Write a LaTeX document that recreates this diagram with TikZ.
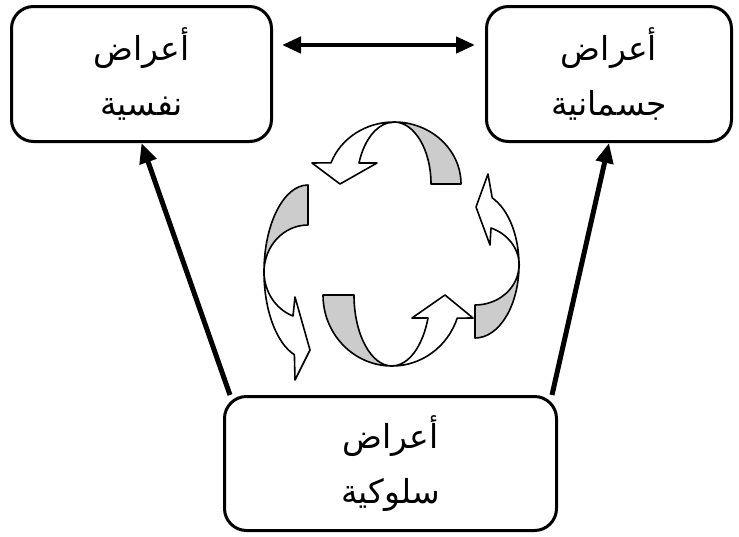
\documentclass[tikz,border=0pt]{standalone}
\usepackage{fontspec}
\usepackage{tikz}
\usetikzlibrary{arrows.meta}
\newfontfamily\arabicfont[Script=Arabic]{DejaVu Sans}
\TeXXeTstate=1
\definecolor{bandgray}{HTML}{CCCCCC}

\begin{document}
\begin{tikzpicture}[x=1pt, y=-1pt,
        box/.style = {draw, line width=3pt, rounded corners=22pt, align=center,
                      font=\arabicfont\fontsize{33}{55}\selectfont},
        band/.style = {draw, line width=1.6pt, line join=round},
        heavy/.style = {line width=5pt, -{Triangle[length=20pt, width=17pt]}}]
        \useasboundingbox (0,0) rectangle (739,536);

        \node[box, minimum width=260pt, minimum height=135pt] (psy) at (141.5,74) {\beginR أعراض\endR\\\beginR نفسية\endR};
        \node[box, minimum width=245pt, minimum height=135pt] (som) at (609,74) {\beginR أعراض\endR\\\beginR جسمانية\endR};
        \node[box, minimum width=332pt, minimum height=134pt] (beh) at (390.5,463.5) {\beginR أعراض\endR\\\beginR سلوكية\endR};

        \draw[line width=4.5pt, {Triangle[length=19pt, width=16pt]}-{Triangle[length=19pt, width=16pt]},
              shorten <=9pt, shorten >=10pt] ([yshift=29pt]psy.east) -- ([yshift=29pt]som.west);
        \draw[heavy] ([xshift=7pt]beh.north west) -- (psy.south);
        \draw[heavy] ([xshift=-6pt]beh.north east) -- (som.south);

        % top band
        \filldraw[band, fill=bandgray] (461,184) arc[start angle=0, end angle=-90, x radius=67, y radius=62]
            arc[start angle=-90, end angle=0, x radius=37, y radius=62] -- cycle;
        \filldraw[band, fill=white] (394,122) arc[start angle=-90, end angle=-160, x radius=67, y radius=62]
            -- (312,163) -- (340,184) -- (377,163) -- (359,163)
            arc[start angle=-160, end angle=-90, x radius=37, y radius=62] -- cycle;
        % bottom band
        \filldraw[band, fill=bandgray] (323,295) arc[start angle=180, end angle=90, x radius=69, y radius=71]
            arc[start angle=90, end angle=180, x radius=38, y radius=71] -- cycle;
        \filldraw[band, fill=white] (392,366) arc[start angle=90, end angle=19, x radius=69, y radius=71]
            -- (473,318) -- (445,295) -- (412,318) -- (428,318)
            arc[start angle=19, end angle=90, x radius=38, y radius=71] -- cycle;
        % left band
        \filldraw[band, fill=bandgray] (308,185) arc[start angle=-90, end angle=-180, x radius=44, y radius=87]
            arc[start angle=-180, end angle=-90, x radius=44, y radius=47] -- cycle;
        \filldraw[band, fill=white] (264,272) arc[start angle=180, end angle=108, x radius=44, y radius=87]
            -- (295,380) -- (310,350) -- (295,297) -- (293,316)
            arc[start angle=110, end angle=180, x radius=44, y radius=47] -- cycle;
        % right band
        \filldraw[band, fill=bandgray] (475,338) arc[start angle=90, end angle=0, x radius=44, y radius=73]
            arc[start angle=0, end angle=90, x radius=44, y radius=40] -- cycle;
        \filldraw[band, fill=white] (519,265) arc[start angle=0, end angle=-67, x radius=44, y radius=73]
            -- (488,174) -- (476,207) -- (490,245) -- (491,228)
            arc[start angle=-69, end angle=0, x radius=44, y radius=40] -- cycle;
    \end{tikzpicture}
\end{document}
